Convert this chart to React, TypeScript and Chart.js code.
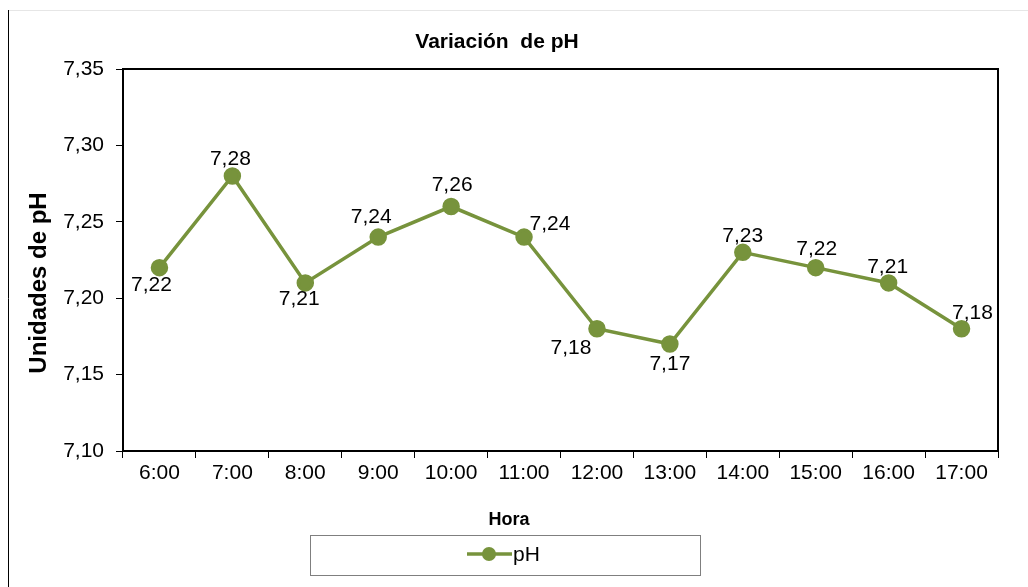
import React, { useEffect, useRef } from "react";
import { Chart, registerables } from "chart.js";

Chart.register(...registerables);

const hours = ["6:00", "7:00", "8:00", "9:00", "10:00", "11:00", "12:00", "13:00", "14:00", "15:00", "16:00", "17:00"];
const phValues = [7.22, 7.28, 7.21, 7.24, 7.26, 7.24, 7.18, 7.17, 7.23, 7.22, 7.21, 7.18];
const yTicks = [7.1, 7.15, 7.2, 7.25, 7.3, 7.35];
const titleText = "Variación  de pH";
const yTitle = "Unidades de pH";
const xTitle = "Hora";
const seriesName = "pH";

// label offsets (dx, dy) relative to each point, in px
const labelOffsets: [number, number][] = [
  [-8, 18], [-2, -17], [-6, 16], [-7, -20], [1, -21], [26, -13],
  [-26, 19], [0, 20], [0, -16], [1, -18], [-1, -16], [11, -16],
];

const GREEN = "#77933C";
const FONT = "'Liberation Sans', Arial, sans-serif";
const fmt = (v: number) => v.toFixed(2).replace(".", ",");

export default function App() {
  const ref = useRef<HTMLCanvasElement>(null);
  useEffect(() => {
    document.body.style.margin = "0";
    const canvas = ref.current!;
    const decor = {
      id: "decor",
      beforeDraw(chart: any) {
        const ctx = chart.ctx;
        ctx.save();
        ctx.fillStyle = "#fff";
        ctx.fillRect(0, 0, chart.width, chart.height);
        ctx.strokeStyle = "#e6e6e6";
        ctx.lineWidth = 1;
        ctx.beginPath();
        ctx.moveTo(8, 10.5);
        ctx.lineTo(chart.width, 10.5);
        ctx.stroke();
        ctx.strokeStyle = "#000";
        ctx.beginPath();
        ctx.moveTo(8.5, 10);
        ctx.lineTo(8.5, chart.height);
        ctx.stroke();
        ctx.restore();
      },
      afterDraw(chart: any) {
        const ctx = chart.ctx;
        const a = chart.chartArea;
        ctx.save();
        ctx.strokeStyle = "#000";
        ctx.lineWidth = 2;
        ctx.strokeRect(a.left, a.top, a.right - a.left, a.bottom - a.top);
        // title
        ctx.fillStyle = "#000";
        ctx.textAlign = "center";
        ctx.textBaseline = "middle";
        ctx.font = `bold 21px ${FONT}`;
        ctx.fillText(titleText, 497, 42);
        // x title
        ctx.font = `bold 18px ${FONT}`;
        ctx.fillText(xTitle, 509, 520);
        // y title
        ctx.save();
        ctx.translate(39, 283);
        ctx.rotate(-Math.PI / 2);
        ctx.font = `bold 24px ${FONT}`;
        ctx.fillText(yTitle, 0, 0);
        ctx.restore();
        // legend
        ctx.strokeStyle = "#7f7f7f";
        ctx.lineWidth = 1;
        ctx.strokeRect(310.5, 535.5, 390, 40);
        ctx.strokeStyle = GREEN;
        ctx.lineWidth = 3.5;
        ctx.beginPath();
        ctx.moveTo(467, 554);
        ctx.lineTo(512, 554);
        ctx.stroke();
        ctx.fillStyle = GREEN;
        ctx.beginPath();
        ctx.arc(489, 554, 7, 0, Math.PI * 2);
        ctx.fill();
        ctx.fillStyle = "#000";
        ctx.textAlign = "left";
        ctx.font = `21px ${FONT}`;
        ctx.fillText(seriesName, 513, 555);
        // data labels
        const meta = chart.getDatasetMeta(0);
        ctx.textAlign = "center";
        ctx.font = `21px ${FONT}`;
        meta.data.forEach((pt: any, i: number) => {
          const [dx, dy] = labelOffsets[i];
          ctx.fillText(fmt(phValues[i]), pt.x + dx, pt.y + dy);
        });
        ctx.restore();
      },
    };
    const chart = new Chart(canvas, {
      type: "line",
      data: {
        labels: hours,
        datasets: [
          {
            label: seriesName,
            data: phValues,
            borderColor: GREEN,
            backgroundColor: GREEN,
            borderWidth: 3.5,
            pointRadius: 7,
            pointHoverRadius: 7,
            pointBackgroundColor: GREEN,
            pointBorderColor: GREEN,
            tension: 0,
          },
        ],
      },
      options: {
        animation: false,
        responsive: false,
        devicePixelRatio: 1,
        layout: { padding: { left: 0, top: 69, right: 30, bottom: 0 } },
        plugins: { legend: { display: false }, title: { display: false }, tooltip: { enabled: false } },
        scales: {
          x: {
            offset: true,
            grid: { display: true, offset: true, drawOnChartArea: false, drawTicks: true, tickLength: 7, color: "#000", lineWidth: 1 },
            border: { display: true, color: "#000", width: 2 },
            ticks: { color: "#000", font: { family: FONT, size: 21 }, padding: 3, maxRotation: 0, autoSkip: false },
            afterFit: (s: any) => { s.height = 136; },
          },
          y: {
            min: 7.1,
            max: 7.35,
            afterBuildTicks: (s: any) => { s.ticks = yTicks.map((v) => ({ value: v })); },
            grid: { display: true, drawOnChartArea: false, drawTicks: true, tickLength: 7, color: "#000", lineWidth: 1 },
            border: { display: true, color: "#000", width: 2 },
            ticks: { color: "#000", font: { family: FONT, size: 21 }, padding: 12, callback: (v: any) => fmt(Number(v)) },
            afterFit: (s: any) => { s.width = 123; },
          },
        },
      },
      plugins: [decor],
    });
    return () => chart.destroy();
  }, []);
  return <canvas ref={ref} width={1028} height={587} style={{ display: "block" }} />;
}
